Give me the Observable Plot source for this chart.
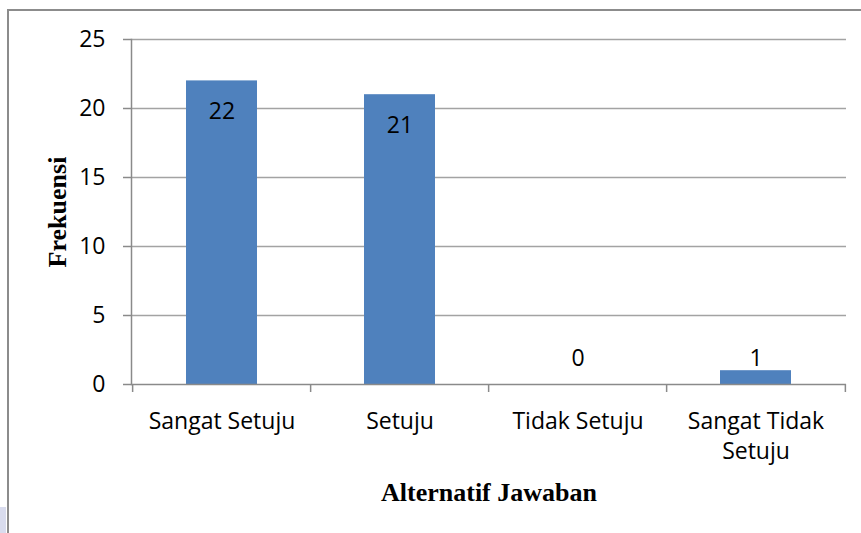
<!DOCTYPE html>
<html>
<head>
<meta charset="utf-8">
<script src="https://cdn.jsdelivr.net/npm/d3@7"></script>
<script src="https://cdn.jsdelivr.net/npm/@observablehq/plot@0.6"></script>
<style>
  html, body { margin: 0; padding: 0; background: #fff; overflow: hidden; }
  #wrap { position: relative; width: 861px; height: 533px; overflow: hidden; }
  #chart { position: absolute; left: 0; top: 0; }
  #border { position: absolute; left: 7px; top: 9px; width: 900px; height: 600px; border: 2px solid #8c8c8c; box-sizing: border-box; pointer-events: none; }
  #patch { position: absolute; left: 0; top: 507px; width: 6px; height: 26px; background: #d9dcee; }
</style>
</head>
<body>
<div id="wrap">
  <div id="chart"></div>
  <div id="border"></div>
  <div id="patch"></div>
</div>
<script>
const categories = ["Sangat Setuju", "Setuju", "Tidak Setuju", "Sangat Tidak\nSetuju"];
const values = [22, 21, 0, 1];
const yTicks = [0, 5, 10, 15, 20, 25];
const yTitle = "Frekuensi";
const xTitle = "Alternatif Jawaban";

const data = categories.map((c, i) => ({cat: c, v: values[i]}));

const W = 861, H = 533, ML = 131, MR = 15, MT = 39, MB = 149;
const step = (W - ML - MR) / categories.length;
const font = "'Open Sans', sans-serif";
const serif = "'Liberation Serif', 'Times New Roman', serif";
const gridColor = "#a3a3a3";
const axisColor = "#8a8a8a";

const chart = Plot.plot({
  width: W,
  height: H,
  marginLeft: ML,
  marginRight: MR,
  marginTop: MT,
  marginBottom: MB,
  style: {fontFamily: font, fontSize: "23px", color: "#000", background: "#fff"},
  x: {domain: categories, paddingInner: 0.6, paddingOuter: 0.3},
  y: {domain: [0, 25], ticks: yTicks},
  marks: [
    Plot.gridY(yTicks.filter(t => t > 0), {stroke: gridColor, strokeOpacity: 1, strokeWidth: 1.5}),
    Plot.barY(data, {x: "cat", y: "v", fill: "#4f81bd"}),
    Plot.ruleY([0], {stroke: axisColor, strokeWidth: 1.5}),
    Plot.frame({anchor: "left", stroke: axisColor, strokeWidth: 1.5}),
    Plot.axisY({ticks: yTicks, tickSize: 8, tickPadding: 18, stroke: axisColor, strokeWidth: 1.5, label: null, fontSize: 23, fill: "#000"}),
    // category boundary ticks
    Plot.axisX({ticks: categories, tickSize: 8, text: null, label: null, dx: -step / 2, stroke: axisColor, strokeWidth: 1.5}),
    Plot.axisX({ticks: [categories[categories.length - 1]], tickSize: 8, text: null, label: null, dx: step / 2, stroke: axisColor, strokeWidth: 1.5}),
    // category labels
    Plot.axisX({tickSize: 0, tickPadding: 23, label: null, fontSize: 23, lineHeight: 1.3, fill: "#000"}),
    // value labels
    Plot.text(data.filter(d => d.v >= 5), {x: "cat", y: "v", text: d => String(d.v), dy: 31, fontSize: 23, fill: "#000"}),
    Plot.text(data.filter(d => d.v > 0 && d.v < 5), {x: "cat", y: "v", text: d => String(d.v), dy: -12, fontSize: 23, fill: "#000"}),
    Plot.text(data.filter(d => d.v === 0), {x: "cat", y: "v", text: d => String(d.v), dy: -26, fontSize: 23, fill: "#000"}),
    // axis titles
    Plot.text([yTitle], {frameAnchor: "left", text: d => d, rotate: -90, textAnchor: "middle", lineAnchor: "middle", dx: -74, fontSize: 26, fontWeight: "bold", fontFamily: serif, fill: "#000"}),
    Plot.text([xTitle], {frameAnchor: "bottom", text: d => d, textAnchor: "middle", lineAnchor: "middle", dy: 108, fontSize: 26, fontWeight: "bold", fontFamily: serif, fill: "#000"})
  ]
});
document.getElementById("chart").appendChild(chart);
</script>
</body>
</html>
